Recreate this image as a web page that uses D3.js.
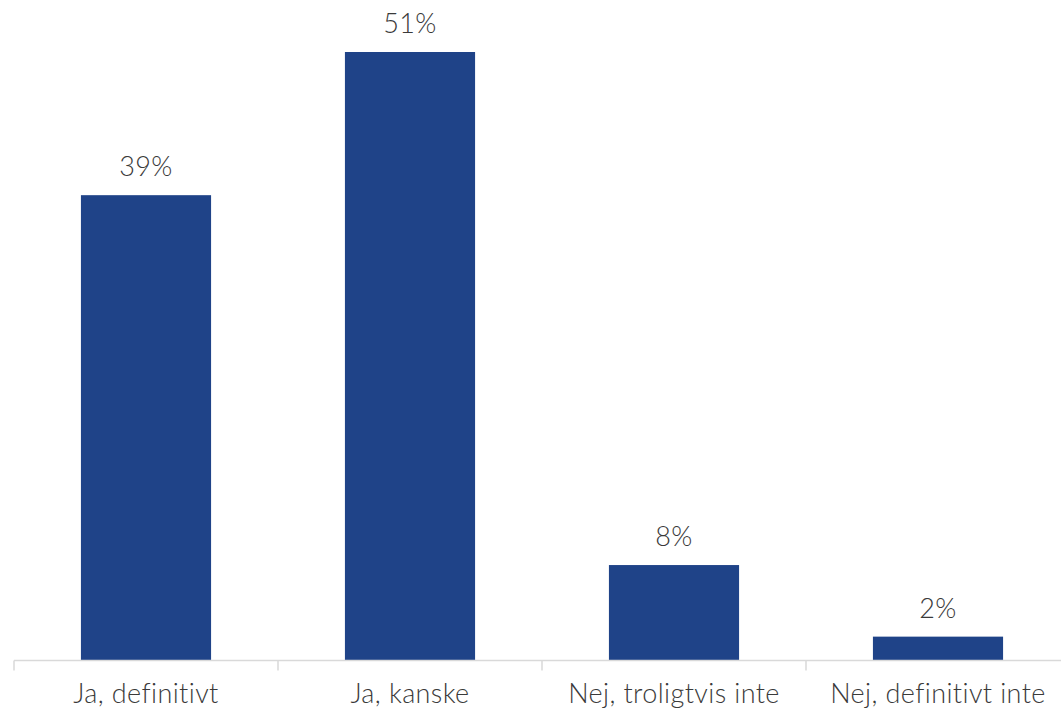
<!DOCTYPE html>
<html>
<head>
<meta charset="utf-8">
<script src="https://cdn.jsdelivr.net/npm/d3@7"></script>
<style>
  html, body { margin: 0; padding: 0; background: #fff; }
  svg { display: block; }
  text { font-family: "Lato", "Open Sans", sans-serif; font-weight: 300; fill: #3a3a3a; letter-spacing: 0.4px; }
</style>
</head>
<body>
<svg id="chart" width="1061" height="711"></svg>
<script>
const categories = ["Ja, definitivt", "Ja, kanske", "Nej, troligtvis inte", "Nej, definitivt inte"];
const values = [0.39, 0.51, 0.08, 0.02];
const valueLabels = ["39%", "51%", "8%", "2%"];

const svg = d3.select("#chart");
const baseline = 660.5;
const left = 14, bandW = 264;

const x = d3.scaleBand()
  .domain(categories)
  .range([left, left + bandW * categories.length])
  .paddingInner(0.507)
  .paddingOuter(0.2535);

const y = d3.scaleLinear().domain([0, 0.51]).range([baseline, 52]);

// bars
svg.append("g").selectAll("rect")
  .data(categories)
  .join("rect")
  .attr("x", d => x(d))
  .attr("width", x.bandwidth())
  .attr("y", (d, i) => y(values[i]))
  .attr("height", (d, i) => baseline - y(values[i]))
  .attr("fill", "#1F4388");

// axis
const axisG = svg.append("g").attr("transform", `translate(0,${baseline})`);
axisG.append("line")
  .attr("x1", left).attr("x2", 1061)
  .attr("y1", 0).attr("y2", 0)
  .attr("stroke", "#d9d9d9").attr("stroke-width", 1.5);
const tickPos = d3.range(categories.length + 1).map(i => left + i * bandW);
axisG.selectAll("line.tick")
  .data(tickPos)
  .join("line")
  .attr("class", "tick")
  .attr("x1", d => d).attr("x2", d => d)
  .attr("y1", 0).attr("y2", 10)
  .attr("stroke", "#d9d9d9").attr("stroke-width", 1.5);

// category labels
svg.append("g").selectAll("text")
  .data(categories)
  .join("text")
  .attr("x", d => x(d) + x.bandwidth() / 2)
  .attr("y", 703)
  .attr("text-anchor", "middle")
  .attr("font-size", 27)
  .text(d => d);

// value labels
svg.append("g").selectAll("text")
  .data(categories)
  .join("text")
  .attr("x", d => x(d) + x.bandwidth() / 2)
  .attr("y", (d, i) => y(values[i]) - 19)
  .attr("text-anchor", "middle")
  .attr("font-size", 27)
  .text((d, i) => valueLabels[i]);
</script>
</body>
</html>
